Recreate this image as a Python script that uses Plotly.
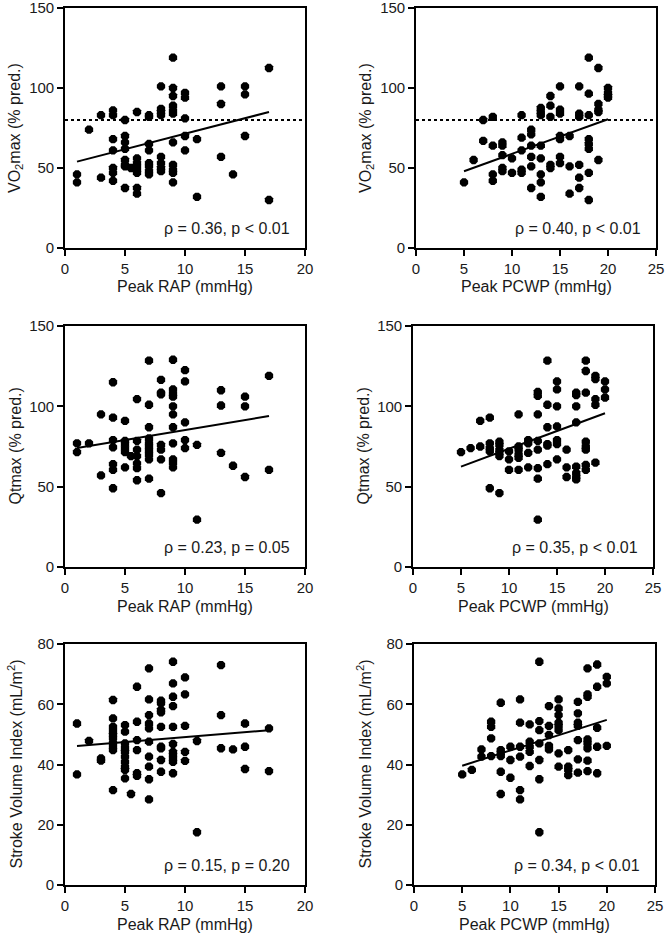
import plotly.graph_objects as go

# ---------------- data ----------------
# Panel A: Peak RAP vs VO2max
rap_vo2_x = [1, 1, 2, 3, 3, 4, 4, 4, 4, 4, 4, 4,
             5, 5, 5, 5, 5, 5, 5, 5, 5.5,
             6, 6, 6, 6, 6, 6, 6, 6,
             7, 7, 7, 7, 7, 7, 7, 7,
             8, 8, 8, 8, 8, 8, 8, 8,
             9, 9, 9, 9, 9, 9, 9, 9, 9, 9, 9,
             10, 10, 10, 10, 10, 11, 11, 13, 13, 13, 14, 15, 15, 15, 17, 17]
rap_vo2_y = [46, 41, 74, 83, 44, 86, 83, 68, 61, 50, 47, 42,
             80, 70, 66, 62, 55, 52, 51, 37.5, 50,
             85, 56, 53, 51, 49, 47, 37.5, 34,
             83, 82, 65, 61, 53, 51, 48, 46,
             101, 87, 85, 83, 57, 53, 50, 48,
             119, 100, 95, 89, 86, 84, 66, 52, 49, 47, 41,
             97, 94, 81, 70, 61, 68, 32, 101, 90, 57, 46, 101, 96, 70, 112.5, 30]

# Panel B: Peak PCWP vs VO2max
pcwp_vo2_x = [5, 6, 7, 7, 8, 8, 8, 8, 9, 9, 9, 9, 9, 10, 10,
              11, 11, 11, 11, 11, 12, 12, 12, 12, 12, 12,
              13, 13, 13, 13, 13, 13, 13, 13, 14, 14, 14, 14, 14,
              15, 15, 15, 15, 15, 15, 15, 16, 16, 16,
              17, 17, 17, 17, 17, 17, 18, 18, 18, 18, 18, 18, 18, 18,
              19, 19, 19, 19, 19, 20, 20, 20, 20]
pcwp_vo2_y = [41, 55, 80, 67, 82, 64, 46, 42, 66, 64, 58, 50, 48, 56, 47,
              83, 69, 61, 49, 47, 74, 71, 64, 57, 51, 37.5,
              87.5, 85, 83, 64, 56, 46, 41, 32, 95, 89, 82, 52, 50,
              101, 86.5, 84, 70, 68, 57, 53, 70, 51, 34,
              101, 84, 82, 52, 44, 37.5, 119, 96.5, 83, 68, 65, 62, 47, 30,
              112.5, 90, 86.5, 85, 55, 100, 97, 95, 94]

# Panel C: Peak RAP vs Qtmax
rap_qt_x = [1, 1, 2, 3, 3, 4, 4, 4, 4, 4, 4, 4,
            5, 5, 5, 5, 5, 5, 5.5,
            6, 6, 6, 6, 6, 6, 6,
            7, 7, 7, 7, 7, 7, 7, 7, 7, 7,
            8, 8, 8, 8, 8, 8, 8,
            9, 9, 9, 9, 9, 9, 9, 9, 9, 9, 9,
            10, 10, 10, 10, 10, 11, 11, 13, 13, 13, 14, 15, 15, 15, 17, 17]
rap_qt_y = [77, 71.5, 77, 95, 57, 115, 93, 79, 74.5, 64, 60.5, 49,
            91, 78.5, 76.5, 74, 71.5, 62, 69,
            104.5, 78.5, 73, 69, 64.5, 61.5, 54,
            128.5, 101, 87, 80, 77, 75, 72.5, 70, 67, 55,
            116.5, 108.5, 107.5, 76, 73, 67, 46,
            129, 110.5, 108, 106, 100, 95, 87, 77, 67, 65, 62,
            122.5, 115.5, 90, 79, 74, 76, 29.5, 110, 100.5, 71, 63, 106, 100, 56, 119, 60.5]

# Panel D: Peak PCWP vs Qtmax
pcwp_qt_x = [5, 6, 7, 7, 8, 8, 8, 8, 8, 9, 9, 9, 9, 9, 9, 10, 10, 10,
             11, 11, 11, 11, 11, 11, 12, 12, 12, 12,
             13, 13, 13, 13, 13, 13, 13, 13, 14, 14, 14, 14, 14, 14,
             15, 15, 15, 15, 15, 15, 15, 16, 16, 16,
             17, 17, 17, 17, 17, 17, 17, 17, 18, 18, 18, 18, 18, 18, 18, 18,
             19, 19, 19, 19, 19, 20, 20, 20]
pcwp_qt_y = [71.5, 74, 91, 75, 93, 77, 74, 72, 49, 78, 76, 73, 71, 69, 46, 72, 67, 60.5,
             95, 75, 73, 70, 68, 60.5, 79, 77, 71, 62,
             109, 106.5, 95, 78.5, 73, 61.5, 55, 29.5, 128.5, 101, 87, 76.5, 75.5, 64,
             115.5, 110.5, 100, 87.5, 79, 76.5, 67, 73, 62, 56,
             108.5, 107, 100, 90, 62.5, 58.5, 56, 54.5, 128.5, 122, 108.5, 78, 75, 73, 63.5, 60.5,
             119, 117, 104.5, 101, 65, 115.5, 110.5, 105.5]

# Panel E: Peak RAP vs Stroke Volume Index
rap_svi_x = [1, 1, 2, 3, 3, 4, 4, 4, 4, 4, 4, 4, 4, 4, 4,
             5, 5, 5, 5, 5, 5, 5, 5, 5, 5, 5.5,
             6, 6, 6, 6, 6, 6,
             7, 7, 7, 7, 7, 7, 7, 7, 7, 7,
             8, 8, 8, 8, 8, 8, 8, 8, 8,
             9, 9, 9, 9, 9, 9, 9, 9, 9, 9, 9,
             10, 10, 10, 10, 10, 11, 11, 13, 13, 13, 14, 15, 15, 15, 17, 17]
rap_svi_y = [53.6, 36.7, 47.8, 42, 41.3, 61.4, 55.3, 52.5, 51.2, 49.8, 48.7, 47.2, 45.9, 44.8, 31.5,
             53.1, 50.9, 47, 45.6, 44.2, 42.6, 40.9, 39.3, 38.2, 35.4, 30.2,
             65.8, 54.2, 48.1, 44.8, 37.1, 36.2,
             71.9, 61.6, 56.4, 53.6, 52, 47.6, 42.6, 39.3, 35.1, 28.4,
             61.2, 60.3, 58.1, 57.3, 52.5, 45.9, 45.4, 41.5, 37.6,
             74.1, 66.9, 62.5, 59.4, 52.5, 46.8, 44.2, 43.1, 42, 40.9, 37.1,
             68.9, 63.3, 52.8, 44.2, 41.2, 47.8, 17.5, 73, 56.4, 45.4, 45, 53.6, 45.9, 38.5, 52, 37.8]

# Panel F: Peak PCWP vs Stroke Volume Index
pcwp_svi_x = [5, 6, 7, 7, 8, 8, 8, 8, 9, 9, 9, 9, 9, 9, 10, 10, 10,
              11, 11, 11, 11, 11, 11, 12, 12, 12, 12, 12,
              13, 13, 13, 13, 13, 13, 13, 14, 14, 14, 14, 14,
              15, 15, 15, 15, 15, 15, 15, 15, 16, 16, 16, 16,
              17, 17, 17, 17, 17, 17, 17, 18, 18, 18, 18, 18, 18, 18, 18,
              19, 19, 19, 19, 19, 20, 20, 20]
pcwp_svi_y = [36.7, 38.2, 45, 42.6, 54.2, 52.5, 48.7, 42.8, 60.5, 44.8, 43.9, 42.8, 37.6, 30.2, 45.9, 41.5, 35.6,
              61.6, 53.9, 45.9, 42.6, 31.5, 28.4, 53.3, 47.6, 45.9, 44.2, 39.5,
              74.1, 54.4, 51.4, 47, 41.5, 35.1, 17.5, 59.4, 52.8, 49.8, 46.2, 45,
              61.6, 58.6, 56.4, 53.9, 52.8, 51.4, 43.7, 39.3, 44.8, 39.3, 38.2, 36.5,
              60.8, 57, 53.9, 52.8, 48.1, 41.7, 37.3, 71.9, 63.3, 62.5, 48.3, 47, 45.4, 41.3, 37.8,
              73.2, 65.8, 52.2, 45.9, 37.1, 69.1, 66.9, 46.2]

# regression lines (x endpoints, fitted y endpoints)
fit_rap_x = [1, 17]
fit_pcwp_x = [5, 20]
fit_rap_vo2_y = [54, 85]
fit_pcwp_vo2_y = [48, 80.5]
fit_rap_qt_y = [74, 94]
fit_pcwp_qt_y = [62.5, 95.7]
fit_rap_svi_y = [46.1, 51.4]
fit_pcwp_svi_y = [39.6, 54.8]

vo2_threshold = 80

stats_text = ["ρ = 0.36, p < 0.01", "ρ = 0.40, p < 0.01",
              "ρ = 0.23, p = 0.05", "ρ = 0.35, p < 0.01",
              "ρ = 0.15, p = 0.20", "ρ = 0.34, p < 0.01"]

x_titles = ["Peak RAP (mmHg)", "Peak PCWP (mmHg)"]
y_titles = ["VO<sub>2</sub>max (% pred.)", "Qtmax (% pred.)", "Stroke Volume Index (mL/m<sup>2</sup>)"]

# ---------------- figure ----------------
W, H = 666, 939
FONT = "Liberation Sans, Arial, sans-serif"
TXT = "#1a1a1a"

panels = [
    # (x, y, fitx, fity, xmax, xtitle idx, ymax, dtick_y, ytitle idx, plot box in px (l, r, t, b))
    (rap_vo2_x, rap_vo2_y, fit_rap_x, fit_rap_vo2_y, 20, 0, 150, 50, 0, (65, 305, 8, 248)),
    (pcwp_vo2_x, pcwp_vo2_y, fit_pcwp_x, fit_pcwp_vo2_y, 25, 1, 150, 50, 0, (416, 656, 8, 248)),
    (rap_qt_x, rap_qt_y, fit_rap_x, fit_rap_qt_y, 20, 0, 150, 50, 1, (65, 305, 326, 567)),
    (pcwp_qt_x, pcwp_qt_y, fit_pcwp_x, fit_pcwp_qt_y, 25, 1, 150, 50, 1, (413, 653, 326, 567)),
    (rap_svi_x, rap_svi_y, fit_rap_x, fit_rap_svi_y, 20, 0, 80, 20, 2, (65, 305, 644, 885)),
    (pcwp_svi_x, pcwp_svi_y, fit_pcwp_x, fit_pcwp_svi_y, 25, 1, 80, 20, 2, (414, 655, 644, 885)),
]

fig = go.Figure()
layout = dict(
    width=W, height=H,
    margin=dict(l=0, r=0, t=0, b=0, autoexpand=False),
    paper_bgcolor="white", plot_bgcolor="white",
    showlegend=False,
    font=dict(family=FONT, color=TXT, size=15),
)
annotations = []
shapes = []

for i, (xs, ys, fx, fy, xmax, xt, ymax, dty, yt, box) in enumerate(panels):
    n = "" if i == 0 else str(i + 1)
    xa, ya = "x" + n, "y" + n
    l, r, t, b = box
    axis_common = dict(
        showline=True, linecolor="black", linewidth=1.6, mirror=True,
        ticks="outside", ticklen=6, tickwidth=1.6, tickcolor="black",
        showgrid=False, zeroline=False, automargin=False,
        ticklabeloverflow="allow",
        tickfont=dict(family=FONT, size=15, color=TXT),
    )
    layout["xaxis" + n] = dict(axis_common, domain=[l / W, r / W], anchor=ya,
                               range=[0, xmax], dtick=5)
    layout["yaxis" + n] = dict(axis_common, domain=[1 - b / H, 1 - t / H], anchor=xa,
                               range=[0, ymax], dtick=dty)
    fig.add_trace(go.Scatter(
        x=xs, y=ys, mode="markers", xaxis=xa, yaxis=ya,
        marker=dict(symbol="octagon", size=9, color="black", line=dict(width=0)),
    ))
    fig.add_trace(go.Scatter(
        x=fx, y=fy, mode="lines", xaxis=xa, yaxis=ya,
        line=dict(color="black", width=2),
    ))
    if yt == 0:
        shapes.append(dict(
            type="line", xref=xa + " domain", yref=ya, x0=0, x1=1,
            y0=vo2_threshold, y1=vo2_threshold,
            line=dict(color="black", width=2, dash="dot"),
        ))
    # statistics label
    annotations.append(dict(
        text=stats_text[i], xref=xa + " domain", yref=ya + " domain",
        x=0.945, y=0.08, xanchor="right", yanchor="middle", showarrow=False,
        font=dict(family=FONT, size=16, color=TXT),
    ))
    # x-axis title
    annotations.append(dict(
        text=x_titles[xt], xref="paper", yref="paper",
        x=(l + r) / 2 / W, y=1 - (b + 39) / H, xanchor="center", yanchor="middle",
        showarrow=False, font=dict(family=FONT, size=16, color=TXT),
    ))
    # y-axis title
    annotations.append(dict(
        text=y_titles[yt], xref="paper", yref="paper", textangle=-90,
        x=(l - 50) / W, y=1 - (t + b) / 2 / H, xanchor="center", yanchor="middle",
        showarrow=False, font=dict(family=FONT, size=16, color=TXT),
    ))

layout["annotations"] = annotations
layout["shapes"] = shapes
fig.update_layout(**layout)
fig.write_html("out.html", config={"displayModeBar": False},
               post_script="document.body.style.margin='0';")
